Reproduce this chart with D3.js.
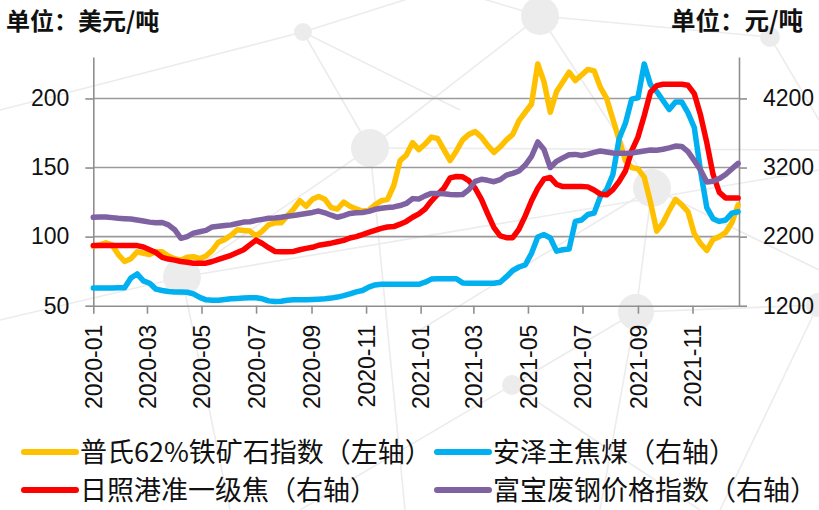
<!DOCTYPE html>
<html>
<head>
<meta charset="utf-8">
<script src="https://cdn.jsdelivr.net/npm/d3@7"></script>
<style>
  body { margin: 0; background: #fff; }
  svg text { font-family: "Liberation Sans", Arial, sans-serif; fill: #111; }
  svg text.cjk { font-family: "Noto Sans CJK SC", sans-serif; }
</style>
</head>
<body>
<div id="chart"></div>
<script>
// weekly samples, 2020-01-01 .. 2021-12-22
const dates = d3.timeDay.range(new Date(2020, 0, 1), new Date(2021, 11, 23), 7);

// 普氏62%铁矿石指数 (left axis, USD/t)
const ironOre = [
  93, 94, 95.5, 94, 87, 82, 84, 89, 88, 87, 89, 89, 86, 84, 83, 85, 85.5, 84, 86, 90,
  96, 98, 101, 105, 104.5, 104, 100.5, 104, 108.5, 110, 110, 115, 120, 126, 122, 127, 129, 127, 121, 120,
  125, 122, 120, 118.5, 119, 123, 126, 127, 137, 155, 159, 168, 163, 167, 172, 171, 163, 155, 162, 170,
  174, 176, 172, 166, 161, 165, 170, 174, 184, 190, 196, 225, 212, 190, 205, 212, 219, 213, 217, 221,
  220, 208, 200, 185, 170, 155, 150, 149, 143, 125, 104, 110, 119, 127, 123, 118, 102, 95, 90, 98,
  100, 103, 110, 123
];
// 安泽主焦煤 (right axis, CNY/t)
const cokingCoal = [
  1455, 1455, 1455, 1455, 1460, 1460, 1600, 1660, 1560, 1525, 1440, 1420, 1405, 1400, 1400, 1395, 1370, 1320, 1285, 1280,
  1280, 1290, 1300, 1305, 1310, 1315, 1315, 1300, 1270, 1260, 1265, 1280, 1285, 1285, 1285, 1290, 1295, 1300, 1310, 1325,
  1345, 1370, 1400, 1420, 1470, 1500, 1510, 1510, 1510, 1510, 1510, 1510, 1510, 1540, 1585, 1590, 1590, 1590, 1590, 1530,
  1525, 1525, 1525, 1525, 1525, 1540, 1620, 1710, 1760, 1790, 1960, 2195, 2230, 2180, 1990, 2010, 2020, 2420, 2440, 2520,
  2540, 2780, 2880, 3100, 3620, 3840, 4190, 4210, 4700, 4400, 4300, 4170, 4040, 4150, 4150, 3990, 3780, 3150, 2620, 2460,
  2420, 2440, 2540, 2560
];
// 日照港准一级焦 (right axis, CNY/t)
const rizhaoCoke = [
  2070, 2070, 2070, 2070, 2070, 2070, 2070, 2070, 2050, 2010, 1970, 1900, 1875, 1860, 1840, 1828, 1815, 1815, 1815, 1840,
  1870, 1900, 1930, 1970, 2010, 2080, 2150, 2100, 2040, 1985, 1980, 1980, 1985, 2010, 2030, 2045, 2075, 2090, 2105, 2125,
  2145, 2180, 2200, 2230, 2260, 2290, 2320, 2340, 2345, 2380, 2420, 2480, 2530, 2600, 2715, 2810, 2900, 3050, 3070, 3065,
  3010, 2900, 2740, 2530, 2330, 2210, 2185, 2185, 2310, 2500, 2720, 2900, 3035, 3055, 2955, 2925, 2925, 2925, 2925, 2920,
  2875, 2815, 2805, 2880, 3000, 3150, 3440, 3640, 3950, 4290, 4385, 4405, 4405, 4405, 4405, 4390, 4270, 3960, 3560, 3100,
  2840, 2760, 2760, 2760
];
// 富宝废钢价格指数 (right axis, CNY/t)
const scrapSteel = [
  2480, 2485, 2485, 2475, 2465, 2460, 2455, 2440, 2425, 2410, 2400, 2405, 2370, 2300, 2175, 2200, 2250, 2270, 2290, 2340,
  2350, 2360, 2370, 2390, 2410, 2415, 2435, 2450, 2465, 2470, 2480, 2495, 2505, 2520, 2535, 2550, 2570, 2545, 2510, 2480,
  2505, 2535, 2545, 2550, 2565, 2595, 2610, 2620, 2630, 2650, 2680, 2750, 2745, 2790, 2825, 2825, 2820, 2810, 2805, 2810,
  2880, 3000, 3030, 3015, 2995, 3025, 3090, 3115, 3150, 3235, 3360, 3570, 3460, 3200, 3290, 3340, 3385, 3390, 3375, 3395,
  3420, 3440, 3425, 3410, 3405, 3405, 3410, 3425, 3440, 3455, 3450, 3465, 3485, 3510, 3505, 3430, 3300, 3165, 2990, 3000,
  3040, 3100, 3180, 3260
];

const leftTicks = [50, 100, 150, 200];
const rightTicks = [1200, 2200, 3200, 4200];
const leftUnit = "单位：美元/吨";
const rightUnit = "单位：元/吨";

const series = [
  { name: "普氏62%铁矿石指数（左轴）", values: ironOre, axis: "left", color: "#FFC000" },
  { name: "安泽主焦煤（右轴）", values: cokingCoal, axis: "right", color: "#00B0F0" },
  { name: "日照港准一级焦（右轴）", values: rizhaoCoke, axis: "right", color: "#FF0000" },
  { name: "富宝废钢价格指数（右轴）", values: scrapSteel, axis: "right", color: "#7F62A1" }
];

const W = 819, H = 510;
const margin = { top: 57, right: 80, bottom: 204.3, left: 93.3 };
const width = W - margin.left - margin.right;
const height = H - margin.top - margin.bottom;

const svg = d3.select("#chart").append("svg")
  .attr("width", W)
  .attr("height", H);

// faint background network decoration
const deco = svg.append("g");
const nodes = [[303, 32, 9], [540, 16, 19], [370, 148, 19], [182, 277, 19], [652, 188, 19],
               [770, 37, 10], [636, 312, 18], [512, 385, 10], [818, 305, 12]];
const links = [[303, 32, 420, -5], [303, 32, 370, 148], [303, 32, 460, 110], [540, 16, 770, 37],
               [540, 16, 652, 188], [540, 16, 380, 140], [370, 148, 182, 277], [370, 148, 405, 510],
               [370, 148, 819, 150], [182, 277, 819, 170], [182, 277, 230, 510], [182, 277, 0, 320],
               [652, 188, 636, 312], [652, 188, 819, 270], [652, 188, 420, 330], [770, 37, 819, 120],
               [636, 312, 512, 385], [636, 312, 818, 305], [636, 312, 600, 510], [512, 385, 300, 510],
               [512, 385, 700, 510], [818, 305, 720, 510], [0, 110, 303, 32], [540, 16, 470, -5]];
deco.selectAll("line").data(links).join("line")
  .attr("x1", d => d[0]).attr("y1", d => d[1])
  .attr("x2", d => d[2]).attr("y2", d => d[3])
  .attr("stroke", "#ececec").attr("stroke-width", 1.6);
deco.selectAll("circle").data(nodes).join("circle")
  .attr("cx", d => d[0]).attr("cy", d => d[1]).attr("r", d => d[2])
  .attr("fill", "#ececec");

const g = svg.append("g").attr("transform", `translate(${margin.left},${margin.top})`);

const x = d3.scaleTime()
  .domain([new Date(2020, 0, 1), new Date(2021, 11, 23)])
  .range([0, width]);
const yL = d3.scaleLinear().domain([50, 230]).range([height, 0]);
const yR = d3.scaleLinear().domain([1200, 4800]).range([height, 0]);

// gridlines
g.append("g").selectAll("line").data(leftTicks.slice(1)).join("line")
  .attr("x1", 0).attr("x2", width)
  .attr("y1", d => yL(d)).attr("y2", d => yL(d))
  .attr("stroke", "#9a9a9a").attr("stroke-width", 1.6);

function styleAxis(sel) {
  sel.selectAll(".domain, .tick line").attr("stroke", "#8f8f8f").attr("stroke-width", 1.6);
  sel.selectAll("text").attr("font-size", 23).attr("fill", "#111");
}

g.append("g")
  .call(d3.axisLeft(yL).tickValues(leftTicks).tickSize(8).tickSizeOuter(0).tickPadding(16))
  .call(styleAxis);

g.append("g")
  .attr("transform", `translate(${width},0)`)
  .call(d3.axisRight(yR).tickValues(rightTicks).tickFormat(d3.format("d"))
    .tickSize(8).tickSizeOuter(0).tickPadding(16))
  .call(styleAxis);

g.append("g")
  .attr("transform", `translate(0,${height})`)
  .call(d3.axisBottom(x).ticks(d3.timeMonth.every(2)).tickFormat(d3.timeFormat("%Y-%m"))
    .tickSize(8).tickSizeOuter(0))
  .call(styleAxis)
  .call(ax => ax.selectAll("text")
    .attr("transform", "rotate(-90)")
    .attr("text-anchor", "end")
    .attr("x", -19)
    .attr("y", 0)
    .attr("dy", "0.36em"));

// lines
series.forEach(s => {
  const yScale = s.axis === "left" ? yL : yR;
  const line = d3.line()
    .x((d, i) => x(dates[i]))
    .y(d => yScale(d));
  g.append("path")
    .datum(s.values)
    .attr("fill", "none")
    .attr("stroke", s.color)
    .attr("stroke-width", 5.5)
    .attr("stroke-linejoin", "round")
    .attr("stroke-linecap", "round")
    .attr("d", line);
});

// unit labels
svg.append("text").attr("class", "cjk")
  .attr("x", 6).attr("y", 30)
  .attr("font-size", 24).attr("font-weight", "bold")
  .text(leftUnit);
svg.append("text").attr("class", "cjk")
  .attr("x", 803).attr("y", 30)
  .attr("text-anchor", "end")
  .attr("font-size", 24.5).attr("font-weight", "bold")
  .text(rightUnit);

// legend
const legendPos = [[22, 452], [435, 452], [22, 490], [435, 490]];
const legend = svg.append("g").selectAll("g").data(series).join("g")
  .attr("transform", (d, i) => `translate(${legendPos[i][0]},${legendPos[i][1]})`);
legend.append("line")
  .attr("x1", 2).attr("x2", 54)
  .attr("stroke", d => d.color)
  .attr("stroke-width", 6)
  .attr("stroke-linecap", "round");
legend.append("text").attr("class", "cjk")
  .attr("x", 58).attr("dy", "0.36em")
  .attr("font-size", 27)
  .text(d => d.name);
</script>
</body>
</html>
